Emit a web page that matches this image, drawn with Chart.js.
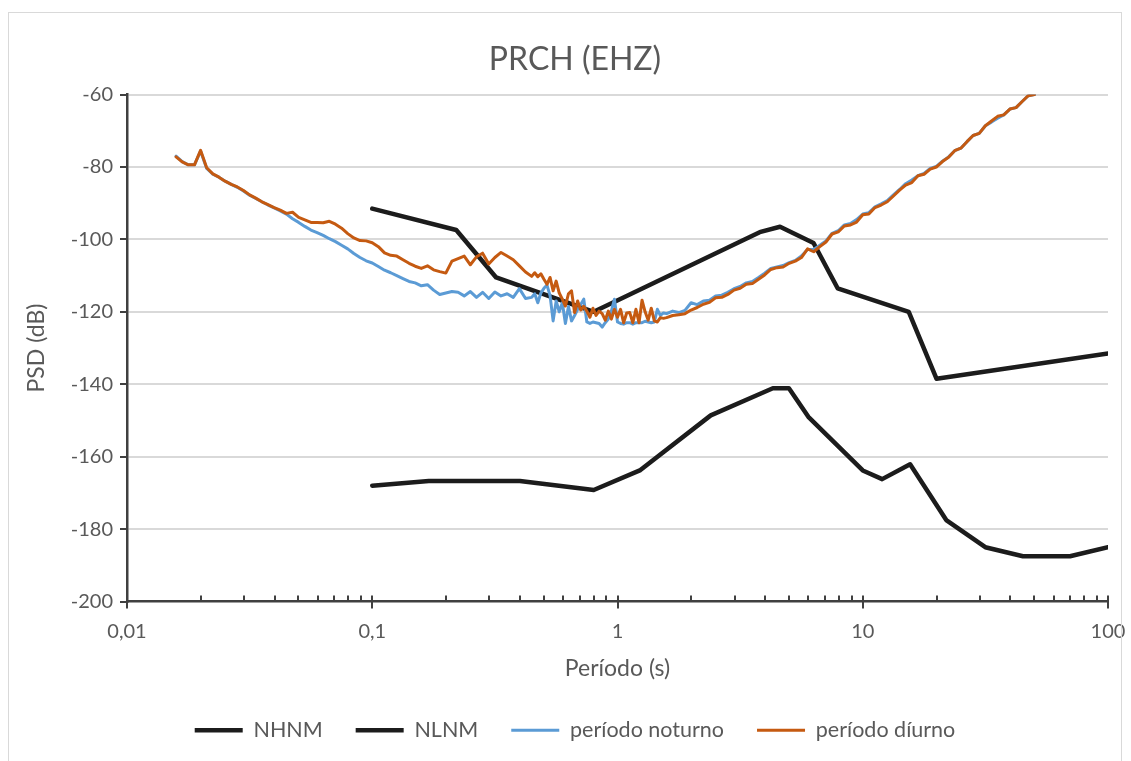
<!DOCTYPE html>
<html lang="pt">
<head>
<meta charset="UTF-8" />
<title>PRCH (EHZ)</title>
<script src="https://cdn.jsdelivr.net/npm/chart.js"></script>
<style>
  body { margin: 0; background: #fff; }
  #grafico { position: absolute; left: 0; top: 0; }
  #moldura { position: absolute; left: 8px; top: 12px; width: 1112px; height: 760px; border: 1px solid #d9d9d9; pointer-events: none; }
</style>
</head>
<body>
<canvas id="grafico" width="1131" height="761"></canvas>
<div id="moldura"></div>
<script>
// Modelos de ruído de Peterson (período em s, PSD em dB)
const periodoNHNM = [0.1, 0.22, 0.32, 0.8, 3.8, 4.6, 6.3, 7.9, 15.4, 20, 100];
const psdNHNM = [-91.5, -97.4, -110.5, -120.0, -98.0, -96.5, -101.0, -113.5, -120.0, -138.5, -131.5];

const periodoNLNM = [0.1, 0.17, 0.4, 0.8, 1.24, 2.4, 4.3, 5.0, 6.0, 10, 12, 15.6, 21.9, 31.6, 45, 70, 100];
const psdNLNM = [-168.0, -166.7, -166.7, -169.2, -163.7, -148.6, -141.1, -141.1, -149.0, -163.8, -166.2, -162.1, -177.5, -185.0, -187.5, -187.5, -185.0];

// Períodos das curvas PSD da estação
const periodo = [
  0.01585, 0.01679, 0.01778, 0.01884, 0.01995, 0.02113, 0.02239, 0.02371, 0.02512, 0.02661,
  0.02818, 0.02985, 0.03162, 0.03350, 0.03548, 0.03758, 0.03981, 0.04217, 0.04467, 0.04732,
  0.05012, 0.05309, 0.05623, 0.05957, 0.06310, 0.06683, 0.07079, 0.07499, 0.07943, 0.08414,
  0.08913, 0.09441,
  0.1000, 0.1059, 0.1122, 0.1189, 0.1259, 0.1334, 0.1413, 0.1496, 0.1585, 0.1679,
  0.1778, 0.1884, 0.1995, 0.2113, 0.2239, 0.2371, 0.2512, 0.2661, 0.2818, 0.2985,
  0.3162, 0.3350, 0.3548, 0.3758, 0.3981, 0.4217,
  0.4467, 0.4597, 0.4732, 0.4870, 0.5012, 0.5158, 0.5309, 0.5464, 0.5623, 0.5787,
  0.5957, 0.6131, 0.6310, 0.6494, 0.6683, 0.6878, 0.7079, 0.7286, 0.7499, 0.7718,
  0.7943, 0.8175, 0.8414, 0.8660, 0.8913, 0.9173, 0.9441, 0.9717, 1.000, 1.029,
  1.059, 1.090, 1.122, 1.155, 1.189, 1.224, 1.259, 1.296, 1.334, 1.373,
  1.413, 1.454, 1.496, 1.540, 1.585,
  1.679, 1.778, 1.884, 1.995, 2.113, 2.239, 2.371, 2.512, 2.661, 2.818,
  2.985, 3.162, 3.350, 3.548, 3.758, 3.981, 4.217, 4.467, 4.732, 5.012,
  5.309, 5.623, 5.957, 6.310, 6.683, 7.079, 7.499, 7.943, 8.414, 8.913,
  9.441, 10.00, 10.59, 11.22, 11.89, 12.59, 13.34, 14.13, 14.96, 15.85,
  16.79, 17.78, 18.84, 19.95, 21.13, 22.39, 23.71, 25.12, 26.61, 28.18,
  29.85, 31.62, 33.50, 35.48, 37.58, 39.81, 42.17, 44.67, 47.32, 50.12
];

const psdNoturno = [
  -77.0, -78.5, -79.4, -79.4, -75.6, -80.4, -82.0, -82.8, -83.9, -84.8,
  -85.6, -86.6, -87.8, -88.7, -89.6, -90.5, -91.3, -92.1, -93.0, -94.3,
  -95.3, -96.4, -97.4, -98.1, -98.9, -99.8, -100.6, -101.6, -102.6, -103.9,
  -105.0, -105.9,
  -106.5, -107.5, -108.5, -109.2, -110.0, -110.8, -111.6, -112.0, -112.8, -112.5,
  -114.0, -115.2, -114.8, -114.4, -114.6, -115.6, -114.4, -116.0, -114.6, -116.3,
  -114.5, -115.6, -115.0, -116.0, -113.6, -116.3,
  -116.0, -115.0, -117.5, -114.8, -113.5, -112.6, -115.5, -122.5, -117.0, -120.0,
  -117.5, -123.2, -118.5, -122.5, -121.0, -119.3, -118.0, -116.5, -122.8, -123.2,
  -122.8, -123.0, -123.2, -124.2, -123.0, -122.0, -119.8, -116.5, -122.8, -123.2,
  -123.4, -123.0, -123.0, -123.4, -123.0, -123.0, -123.0, -122.6, -122.8, -123.0,
  -122.8, -119.3, -121.0, -120.3, -120.5,
  -119.8, -120.2, -119.6, -117.5, -118.0, -117.0, -116.8, -115.6, -115.4, -114.6,
  -113.6, -113.0, -112.0, -111.6, -110.5, -109.3, -108.0, -107.6, -107.2, -106.4,
  -105.8, -104.6, -102.8, -102.8, -101.6, -100.4, -98.3, -97.6, -96.0, -95.6,
  -94.5, -93.0, -92.6, -91.0, -90.2, -89.3, -87.7, -86.2, -84.6, -83.6,
  -82.4, -81.8, -80.4, -79.8, -78.4, -77.2, -75.5, -74.8, -73.0, -71.3,
  -70.7, -68.6, -67.6, -66.5, -65.6, -64.0, -63.6, -61.9, -60.3, -60.0
];

const psdDiurno = [
  -77.2, -78.6, -79.4, -79.4, -75.4, -80.2, -81.9, -82.8, -83.9, -84.8,
  -85.5, -86.5, -87.7, -88.6, -89.6, -90.4, -91.2, -91.9, -92.8, -92.5,
  -93.9, -94.6, -95.3, -95.3, -95.4, -95.0, -95.8, -96.9, -98.4, -99.6,
  -100.3, -100.4,
  -100.9, -102.0, -103.7, -104.4, -104.6, -105.6, -106.6, -107.4, -108.0, -107.3,
  -108.4, -108.9, -109.3, -106.0, -105.3, -104.6, -107.0, -104.8, -103.8, -106.8,
  -105.0, -103.6, -104.6, -105.6, -107.3, -109.0,
  -110.2, -109.2, -110.3, -109.5, -111.0, -112.4, -110.5, -114.2, -111.5, -114.8,
  -116.5, -118.4, -115.0, -114.2, -120.2, -117.0, -119.5, -118.5, -119.8, -121.5,
  -119.0, -121.0, -119.8, -120.5, -122.3, -119.8, -122.0, -119.3, -121.5, -119.3,
  -123.0, -120.3, -120.2, -123.0, -119.3, -123.0, -116.8, -120.0, -122.3, -119.0,
  -122.5, -122.8, -121.6, -121.8, -121.6,
  -121.0, -120.8, -120.5, -119.5, -118.8, -117.9, -117.4, -116.1, -116.0, -115.2,
  -114.0, -113.5, -112.4, -112.2, -111.0, -109.8, -108.3, -107.8, -107.6, -106.6,
  -106.0, -105.0, -102.6, -103.4, -102.0, -100.7, -98.5, -97.9, -96.3, -96.0,
  -95.2, -93.2, -93.0, -91.2, -90.5, -89.6, -88.0, -86.4, -85.0, -84.3,
  -82.4, -82.0, -80.6, -80.0, -78.5, -77.3, -75.5, -74.8, -73.0, -71.3,
  -70.7, -68.6, -67.3, -66.0, -65.6, -64.0, -63.6, -61.9, -60.3, -60.0
];

// Eixo X: décadas com rótulo, marcas menores entre elas
const decadas = [0.01, 0.1, 1, 10, 100];
const rotulosX = ['0,01', '0,1', '1', '10', '100'];

const cinzaTexto = '#595959';
const corEixo = '#404040';

function pontos(xs, ys) {
  return xs.map((x, i) => ({ x: x, y: ys[i] }));
}

function marcasLog() {
  const lista = [];
  decadas.forEach((d, i) => {
    if (i === decadas.length - 1) { lista.push({ value: d }); return; }
    for (let m = 1; m <= 9; m++) lista.push({ value: Number((m * d).toPrecision(3)) });
  });
  return lista;
}

// tracinhos do eixo X: maiores atravessam o eixo, menores ficam para dentro
const tracosEixoX = {
  id: 'tracosEixoX',
  afterDraw(chart) {
    const ctx = chart.ctx;
    const sx = chart.scales.x;
    const base = chart.chartArea.bottom;
    ctx.save();
    ctx.strokeStyle = corEixo;
    ctx.lineWidth = 2;
    sx.ticks.forEach(t => {
      const px = Math.round(sx.getPixelForValue(t.value));
      const maior = decadas.includes(t.value);
      ctx.beginPath();
      ctx.moveTo(px, base - 6);
      ctx.lineTo(px, maior ? base + 7 : base);
      ctx.stroke();
    });
    ctx.restore();
  }
};

const linha = { pointRadius: 0, tension: 0, borderJoinStyle: 'round', borderCapStyle: 'round', fill: false };

new Chart(document.getElementById('grafico'), {
  type: 'line',
  data: {
    datasets: [
      Object.assign({ label: 'NHNM', data: pontos(periodoNHNM, psdNHNM), borderColor: '#1c1c1c', backgroundColor: '#1c1c1c', borderWidth: 4.5, order: 4 }, linha),
      Object.assign({ label: 'NLNM', data: pontos(periodoNLNM, psdNLNM), borderColor: '#1c1c1c', backgroundColor: '#1c1c1c', borderWidth: 4.5, order: 3 }, linha),
      Object.assign({ label: 'período noturno', data: pontos(periodo, psdNoturno), borderColor: '#5B9BD5', backgroundColor: '#5B9BD5', borderWidth: 3, order: 2 }, linha),
      Object.assign({ label: 'período díurno', data: pontos(periodo, psdDiurno), borderColor: '#C55A11', backgroundColor: '#C55A11', borderWidth: 3, order: 1 }, linha)
    ]
  },
  options: {
    responsive: false,
    animation: false,
    layout: { padding: { top: 10, left: 42, right: 23, bottom: 10 } },
    plugins: {
      title: {
        display: true,
        text: 'PRCH (EHZ)',
        color: cinzaTexto,
        font: { family: 'Lato', size: 32, weight: 'normal' },
        padding: { top: 30.8, bottom: 15.4 }
      },
      legend: {
        position: 'bottom',
        labels: {
          usePointStyle: true,
          pointStyle: 'line',
          pointStyleWidth: 48,
          padding: 33,
          color: cinzaTexto,
          font: { family: 'Lato', size: 21.5 },
          sort: (a, b) => a.datasetIndex - b.datasetIndex
        }
      },
      tooltip: { enabled: false }
    },
    scales: {
      x: {
        type: 'logarithmic',
        min: 0.01,
        max: 100,
        afterBuildTicks: s => { s.ticks = marcasLog(); },
        afterFit: s => { s.height = 85; s.paddingLeft = 0; s.paddingRight = 0; },
        grid: { display: false },
        border: { display: true, color: corEixo, width: 2.5 },
        ticks: {
          autoSkip: false,
          maxRotation: 0,
          padding: 10,
          color: cinzaTexto,
          font: { family: 'Lato', size: 20 },
          callback: v => {
            const i = decadas.indexOf(v);
            return i >= 0 ? rotulosX[i] : '';
          }
        },
        title: {
          display: true,
          text: 'Período (s)',
          color: cinzaTexto,
          font: { family: 'Lato', size: 23 },
          padding: { top: 0, bottom: 3.7 }
        }
      },
      y: {
        min: -200,
        max: -60,
        afterFit: s => { s.width = 85; },
        grid: {
          color: c => (c.tick && c.tick.value === -200 ? 'rgba(0,0,0,0)' : '#d9d9d9'),
          lineWidth: 2,
          tickLength: 7,
          tickColor: corEixo
        },
        border: { display: true, color: corEixo, width: 2.5 },
        ticks: {
          stepSize: 20,
          padding: 7,
          color: cinzaTexto,
          font: { family: 'Lato', size: 20 }
        },
        title: {
          display: true,
          text: 'PSD (dB)',
          color: cinzaTexto,
          font: { family: 'Lato', size: 23 },
          padding: { top: -18.8, bottom: 0 }
        }
      }
    }
  },
  plugins: [tracosEixoX]
});
</script>
</body>
</html>
